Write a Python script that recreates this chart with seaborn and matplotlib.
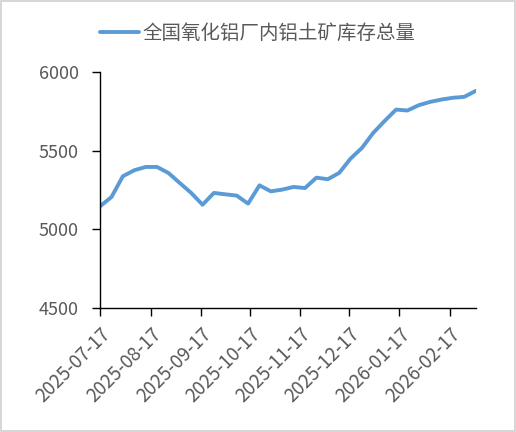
import pandas as pd
import matplotlib
matplotlib.use("Agg")
import matplotlib.pyplot as plt
from matplotlib.patches import Rectangle
import seaborn as sns

# ======================================
# DATA (weekly)
# ======================================

start_date = "2025-07-17"
n_weeks = 34

inventory = [
    5147, 5206, 5338, 5376, 5397, 5397, 5359, 5295, 5232, 5157,
    5232, 5223, 5215, 5164, 5280, 5242, 5253, 5270, 5263, 5329,
    5319, 5359, 5450, 5518, 5614, 5690, 5762, 5756, 5790, 5811,
    5826, 5837, 5843, 5881,
]

tick_labels = [
    "2025-07-17", "2025-08-17", "2025-09-17", "2025-10-17",
    "2025-11-17", "2025-12-17", "2026-01-17", "2026-02-17",
]

series_name = "全国氧化铝厂内铝土矿库存总量"

df = pd.DataFrame({
    "date": pd.date_range(start_date, periods=n_weeks, freq="7D"),
    "value": inventory,
})

# ======================================
# STYLE
# ======================================

sns.set_theme(style="ticks")
plt.rcParams["font.family"] = ["Noto Sans CJK SC", "DejaVu Sans"]

grey = "#595959"
blue = "#5B9BD5"

fig = plt.figure(figsize=(5.16, 4.32), dpi=100)
ax = fig.add_axes([0.194, 0.287, 0.728, 0.546])

sns.lineplot(
    data=df,
    x="date",
    y="value",
    color=blue,
    linewidth=2.8,
    label=series_name,
    ax=ax,
)

# ======================================
# AXES
# ======================================

ax.set_ylim(4500, 6000)
ax.set_yticks([4500, 5000, 5500, 6000])
ax.set_xlim(df["date"].iloc[0], df["date"].iloc[-1])

tick_dates = pd.to_datetime(tick_labels)
ax.set_xticks(tick_dates)
ax.set_xticklabels(
    tick_labels,
    rotation=45,
    ha="right",
    rotation_mode="anchor",
)

ax.set_xlabel("")
ax.set_ylabel("")

for side in ["top", "right"]:
    ax.spines[side].set_visible(False)
for side in ["left", "bottom"]:
    ax.spines[side].set_color("black")
    ax.spines[side].set_linewidth(1.0)

ax.tick_params(
    axis="both",
    direction="out",
    length=5.5,
    width=1,
    color="black",
    labelcolor=grey,
)
ax.tick_params(axis="y", pad=10, labelsize=13)
ax.tick_params(axis="x", pad=6, labelsize=13.5)

# ======================================
# LEGEND
# ======================================

ax.get_legend().remove()
fig.legend(
    loc="center",
    bbox_to_anchor=(0.5, 0.922),
    frameon=False,
    fontsize=14,
    labelcolor=grey,
    handlelength=2.0,
    handletextpad=0.2,
)

# light border around the picture
fig.patches.append(
    Rectangle(
        (0.002, 0.002), 0.996, 0.996,
        transform=fig.transFigure,
        fill=False,
        edgecolor="#d0d0d0",
        linewidth=1.2,
    )
)

fig.savefig("out.png", dpi=100)
plt.close()
